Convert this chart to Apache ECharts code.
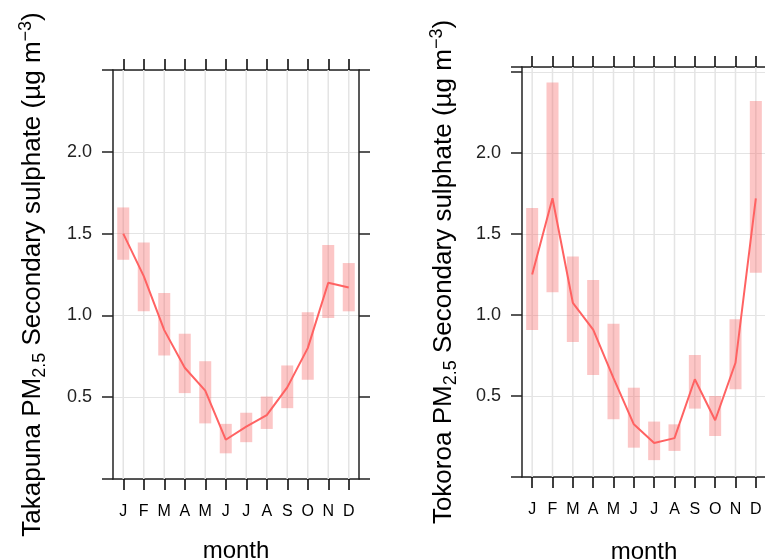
<!DOCTYPE html>
<html>
<head>
<meta charset="utf-8">
<script src="https://cdn.jsdelivr.net/npm/echarts@6/dist/echarts.min.js"></script>
<style>
html, body { margin: 0; padding: 0; background: #fff; }
#main { width: 765px; height: 560px; }
</style>
</head>
<body>
<div id="main"></div>
<script>
// month labels
var months = ['J', 'F', 'M', 'A', 'M', 'J', 'J', 'A', 'S', 'O', 'N', 'D'];

// Takapuna
var takMean = [1.50, 1.24, 0.91, 0.68, 0.54, 0.24, 0.32, 0.39, 0.56, 0.80, 1.20, 1.17];
var takLo = [1.34, 1.025, 0.755, 0.525, 0.34, 0.157, 0.225, 0.306, 0.433, 0.606, 0.984, 1.025];
var takHi = [1.66, 1.445, 1.137, 0.888, 0.72, 0.337, 0.405, 0.504, 0.694, 1.02, 1.43, 1.32];

// Tokoroa
var tokMean = [1.25, 1.72, 1.075, 0.91, 0.61, 0.325, 0.21, 0.24, 0.603, 0.35, 0.705, 1.72];
var tokLo = [0.907, 1.14, 0.833, 0.63, 0.357, 0.181, 0.104, 0.161, 0.422, 0.253, 0.541, 1.26];
var tokHi = [1.66, 2.435, 1.36, 1.215, 0.946, 0.551, 0.342, 0.325, 0.753, 0.5, 0.973, 2.32];

var FONT = "'Liberation Sans', Arial, sans-serif";
var AXC = '#222';
var GRIDC = '#e4e4e4';

var myChart = echarts.init(document.getElementById('main'));

function xAxes(gi, gap) {
    var base = {
        type: 'category',
        gridIndex: gi,
        data: months,
        boundaryGap: true,
        axisLine: { show: true, onZero: false, lineStyle: { color: AXC, width: 1.5 } },
        axisTick: { show: true, interval: 0, alignWithLabel: true, inside: false, length: 11, lineStyle: { color: '#000', width: 1.5 } },
        splitLine: { show: false }
    };
    var bottom = echarts.util.merge({
        position: 'bottom',
        name: 'month',
        nameLocation: 'middle',
        nameGap: gap,
        nameTextStyle: { fontSize: 24, color: '#000', fontFamily: FONT },
        axisLabel: { show: true, interval: 0, margin: 25, fontSize: 16, color: '#000', fontFamily: FONT }
    }, base, true);
    var top = echarts.util.merge({
        position: 'top',
        axisLabel: { show: false, interval: 0 }
    }, base, true);
    return [bottom, top];
}

function yLabel(v) {
    if (v > 0.01 && v < 2.2) return v.toFixed(1);
    return '';
}

function yAxes(gi, maxv, site, gap, withRight) {
    var base = {
        type: 'value',
        gridIndex: gi,
        min: 0,
        max: maxv,
        interval: 0.5,
        axisLine: { show: true, onZero: false, lineStyle: { color: AXC, width: 1.5 } },
        axisTick: { show: true, inside: false, length: 11, lineStyle: { color: AXC, width: 1.5 } }
    };
    var left = echarts.util.merge({
        position: 'left',
        name: '{n|' + site + ' PM}{sub|2.5}{n| Secondary sulphate (µg m}{sup|−3}{n|)}',
        nameLocation: 'middle',
        nameGap: gap,
        nameTextStyle: {
            color: '#000',
            fontFamily: FONT,
            rich: {
                n: { fontSize: 26, lineHeight: 32, color: '#000', fontFamily: FONT },
                sub: { fontSize: 18, lineHeight: 18, verticalAlign: 'bottom', color: '#000', fontFamily: FONT },
                sup: { fontSize: 18, lineHeight: 18, verticalAlign: 'top', color: '#000', fontFamily: FONT }
            }
        },
        axisLabel: { show: true, margin: 21, fontSize: 18, color: '#222', fontFamily: FONT, formatter: yLabel },
        splitLine: { show: true, lineStyle: { color: GRIDC, width: 1 } }
    }, base, true);
    var out = [left];
    if (withRight) {
        out.push(echarts.util.merge({
            position: 'right',
            axisLabel: { show: false },
            splitLine: { show: false }
        }, base, true));
    }
    return out;
}

// vertical grid lines at month centres
function vlineSeries(xi, yi) {
    return {
        type: 'custom',
        xAxisIndex: xi,
        yAxisIndex: yi,
        silent: true,
        z: 1,
        data: months.map(function (m, i) { return [i]; }),
        renderItem: function (params, api) {
            var cs = params.coordSys;
            var x = api.coord([api.value(0), 0])[0];
            return {
                type: 'line',
                shape: { x1: x, y1: cs.y, x2: x, y2: cs.y + cs.height },
                style: { stroke: GRIDC, lineWidth: 1.5 }
            };
        }
    };
}

function barSeries(xi, yi, lo, hi) {
    return {
        type: 'custom',
        xAxisIndex: xi,
        yAxisIndex: yi,
        z: 2,
        data: lo.map(function (v, i) { return [i, v, hi[i]]; }),
        renderItem: function (params, api) {
            var p0 = api.coord([api.value(0), api.value(1)]);
            var p1 = api.coord([api.value(0), api.value(2)]);
            var w = 12;
            return {
                type: 'rect',
                shape: { x: p0[0] - w / 2, y: p1[1], width: w, height: p0[1] - p1[1] },
                style: { fill: 'rgba(248,100,100,0.37)' }
            };
        }
    };
}

function lineSeries(xi, yi, mean) {
    return {
        type: 'line',
        xAxisIndex: xi,
        yAxisIndex: yi,
        z: 3,
        data: mean,
        showSymbol: false,
        symbol: 'none',
        lineStyle: { color: '#FF6262', width: 2 }
    };
}

var xa = xAxes(0, 60).concat(xAxes(1, 63));
var ya = yAxes(0, 2.5, 'Takapuna', 64, true).concat(yAxes(1, 2.53, 'Tokoroa', 62, false));

var option = {
    animation: false,
    backgroundColor: '#fff',
    grid: [
        { left: 113, top: 70, width: 246, height: 409, show: false, containLabel: false, outerBoundsMode: 'none' },
        { left: 522, top: 67, width: 244, height: 410, show: false, containLabel: false, outerBoundsMode: 'none' }
    ],
    xAxis: xa,
    yAxis: ya,
    series: [
        vlineSeries(0, 0),
        barSeries(0, 0, takLo, takHi),
        lineSeries(0, 0, takMean),
        vlineSeries(2, 2),
        barSeries(2, 2, tokLo, tokHi),
        lineSeries(2, 2, tokMean)
    ]
};

myChart.setOption(option);
</script>
</body>
</html>
